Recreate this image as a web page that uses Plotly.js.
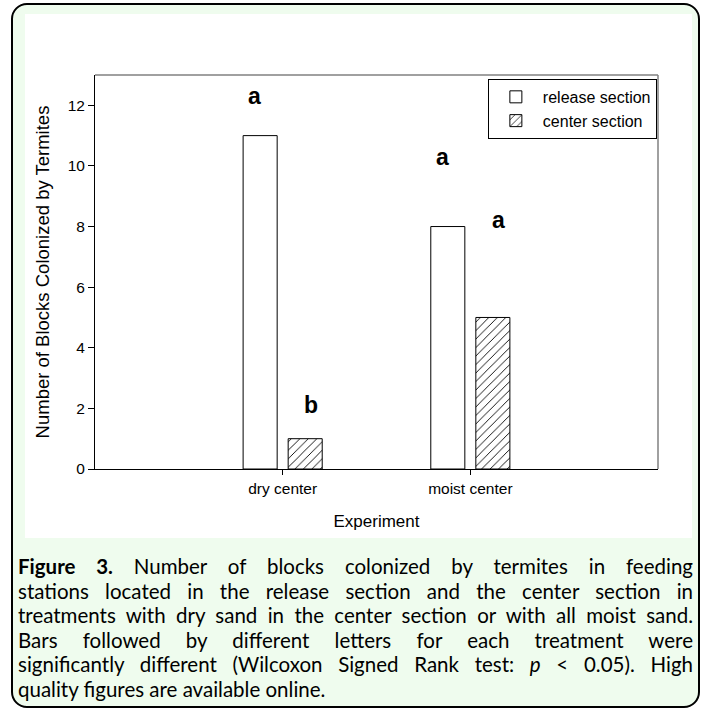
<!DOCTYPE html>
<html>
<head>
<meta charset="utf-8">
<script src="https://cdn.plot.ly/plotly-3.0.1.min.js"></script>
<style>
  html, body { margin: 0; padding: 0; background: #ffffff; }
  #frame {
    position: absolute; left: 11px; top: 3px; width: 689px; height: 705px;
    box-sizing: border-box; border: 2px solid #000; border-radius: 16px;
    background: #effcee;
  }
  #chart { position: absolute; left: 25px; top: 14px; width: 667px; height: 524px; }
  #caption {
    position: absolute; left: 18px; top: 554px; width: 675px;
    font-family: Lato, "Open Sans", sans-serif; font-size: 20.5px; color: #000;
    line-height: 24.6px;
  }
  #caption div { white-space: nowrap; text-align: justify; text-align-last: justify; }
  #caption div.last { text-align-last: left; }
</style>
</head>
<body>
<div id="frame"></div>
<div id="chart"></div>
<div id="caption"></div>
<script>
// ---- data ----
const categories = ["dry center", "moist center"];
const releaseValues = [11, 8];
const centerValues = [1, 5];
const seriesNames = ["release section", "center section"];
const releaseLetters = ["a", "a"];
const centerLetters = ["b", "a"];
const releaseLetterY = [12.3, 10.3];
const centerLetterY = [2.1, 8.2];
const xTitle = "Experiment";
const yTitle = "Number of Blocks Colonized by Termites";
const captionLines = [
  "<b>Figure&nbsp;3.</b> Number of blocks colonized by termites in feeding",
  "stations located in the release section and the center section in",
  "treatments with dry sand in the center section or with all moist sand.",
  "Bars followed by different letters for each treatment were",
  "significantly different (Wilcoxon Signed Rank test: <i>p</i> &lt; 0.05). High",
  "quality figures are available online."
];

const cap = document.getElementById("caption");
captionLines.forEach((t, i) => {
  const d = document.createElement("div");
  d.innerHTML = t;
  if (i === captionLines.length - 1) d.className = "last";
  cap.appendChild(d);
});

const font = "Arial, 'Liberation Sans', sans-serif";

const traces = [
  {
    type: "bar", name: seriesNames[0], x: categories, y: releaseValues,
    marker: { color: "#ffffff", line: { color: "#000000", width: 1 } },
    hoverinfo: "x+y"
  },
  {
    type: "bar", name: seriesNames[1], x: categories, y: centerValues,
    marker: {
      color: "#ffffff", line: { color: "#000000", width: 1 },
      pattern: { shape: "/", fgcolor: "#000000", bgcolor: "#ffffff", size: 6, solidity: 0.15 }
    },
    hoverinfo: "x+y"
  }
];

const annotations = [];
categories.forEach((c, i) => {
  annotations.push({ x: i, y: releaseLetterY[i], xref: "x", yref: "y", xshift: -28,
    text: "<b>" + releaseLetters[i] + "</b>", showarrow: false,
    font: { family: font, size: 23, color: "#000" } });
  annotations.push({ x: i, y: centerLetterY[i], xref: "x", yref: "y", xshift: 28,
    text: "<b>" + centerLetters[i] + "</b>", showarrow: false,
    font: { family: font, size: 23, color: "#000" } });
});

const layout = {
  width: 667, height: 524,
  margin: { l: 70, r: 34, t: 61, b: 69, pad: 0 },
  paper_bgcolor: "#ffffff", plot_bgcolor: "#ffffff",
  font: { family: font, color: "#000" },
  barmode: "group", bargap: 0.52, bargroupgap: 0.244,
  showlegend: true,
  legend: {
    x: 0.998, xanchor: "right", y: 0.99, yanchor: "top",
    bordercolor: "#000", borderwidth: 1, bgcolor: "#ffffff",
    font: { family: font, size: 16, color: "#000" },
    itemwidth: 44, tracegroupgap: 0
  },
  xaxis: {
    type: "category", range: [-1, 2],
    showline: true, linecolor: "#000", linewidth: 1,
    ticks: "outside", ticklen: 5, tickcolor: "#000", tickwidth: 1,
    tickfont: { family: font, size: 15.5, color: "#000" },
    showgrid: false, zeroline: false,
    title: { text: xTitle, font: { family: font, size: 17, color: "#000" }, standoff: 19 }
  },
  yaxis: {
    range: [0, 13], tick0: 0, dtick: 2,
    showline: true, linecolor: "#000", linewidth: 1,
    ticks: "outside", ticklen: 6, tickcolor: "#000", tickwidth: 1,
    tickfont: { family: font, size: 15.5, color: "#000" },
    showgrid: false, zeroline: false,
    title: { text: yTitle, font: { family: font, size: 18.5, color: "#000" }, standoff: 13 }
  },
  shapes: [
    { type: "line", xref: "paper", yref: "paper", x0: 0, x1: 1, y0: 1, y1: 1, line: { color: "#808080", width: 1.5 } },
    { type: "line", xref: "paper", yref: "paper", x0: 1, x1: 1, y0: 0, y1: 1, line: { color: "#808080", width: 1.5 } }
  ],
  annotations: annotations
};

Plotly.newPlot("chart", traces, layout, { displayModeBar: false, staticPlot: true });
</script>
</body>
</html>
